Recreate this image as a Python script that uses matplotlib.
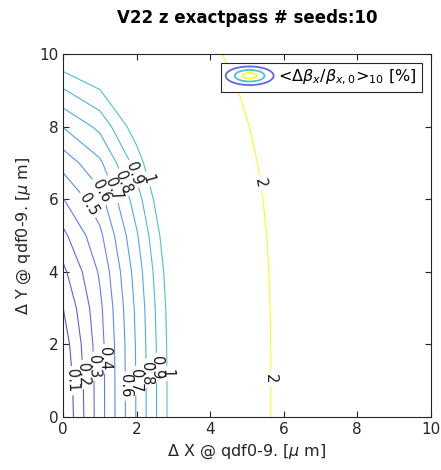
import numpy as np
import matplotlib.pyplot as plt
from matplotlib.colors import LinearSegmentedColormap, Normalize
from matplotlib.legend_handler import HandlerBase
from matplotlib.patches import Ellipse, Patch

# grid of the scan (offsets in um)
x_grid = [0, 1, 2, 3, 4, 5, 6, 7, 8, 9, 10]
y_grid = [0, 1, 2, 3, 4, 5, 6, 7, 8, 9, 10]

# <dbeta_x/beta_x0> [%], one row per y value
z_rows = [
    [0.000, 0.354, 0.708, 1.062, 1.416, 1.770, 2.124, 2.478, 2.832, 3.186, 3.540],
    [0.011, 0.355, 0.708, 1.062, 1.416, 1.770, 2.124, 2.478, 2.832, 3.186, 3.540],
    [0.044, 0.360, 0.712, 1.065, 1.418, 1.772, 2.125, 2.479, 2.833, 3.187, 3.541],
    [0.099, 0.377, 0.723, 1.073, 1.425, 1.778, 2.130, 2.484, 2.837, 3.191, 3.545],
    [0.176, 0.414, 0.746, 1.091, 1.440, 1.790, 2.142, 2.494, 2.847, 3.200, 3.553],
    [0.275, 0.476, 0.788, 1.124, 1.467, 1.814, 2.162, 2.513, 2.863, 3.215, 3.567],
    [0.396, 0.565, 0.853, 1.175, 1.509, 1.850, 2.195, 2.542, 2.890, 3.240, 3.590],
    [0.539, 0.681, 0.943, 1.248, 1.571, 1.904, 2.243, 2.585, 2.930, 3.277, 3.624],
    [0.704, 0.826, 1.061, 1.347, 1.656, 1.979, 2.309, 2.646, 2.985, 3.328, 3.672],
    [0.891, 0.996, 1.207, 1.472, 1.765, 2.076, 2.397, 2.725, 3.059, 3.396, 3.736],
    [1.100, 1.192, 1.381, 1.625, 1.902, 2.198, 2.508, 2.827, 3.153, 3.484, 3.818],
]

levels = [0.1, 0.2, 0.3, 0.4, 0.5, 0.6, 0.7, 0.8, 0.9, 1.0, 2.0]
ticks = [0, 2, 4, 6, 8, 10]

# parula-like colormap (slightly washed out like the thin matlab lines)
parula = LinearSegmentedColormap.from_list("parula", [
    (0.00, (0.380, 0.320, 0.820)),
    (0.10, (0.400, 0.400, 0.950)),
    (0.20, (0.380, 0.520, 1.000)),
    (0.32, (0.300, 0.640, 0.960)),
    (0.45, (0.280, 0.760, 0.840)),
    (0.58, (0.350, 0.800, 0.680)),
    (0.72, (0.620, 0.800, 0.480)),
    (0.86, (0.960, 0.780, 0.320)),
    (1.00, (0.980, 0.980, 0.150)),
])

X, Y = np.meshgrid(x_grid, y_grid)
Z = np.array(z_rows)

plt.rcParams['font.family'] = 'DejaVu Sans'

fig = plt.figure(figsize=(4.41, 4.70), dpi=100)
ax = fig.add_axes([0.143, 0.113, 0.834, 0.772])

cs = ax.contour(X, Y, Z, levels=levels, cmap=parula,
                norm=Normalize(vmin=0.1, vmax=2.0), linewidths=0.8)

label_pos = [
    (0.28, 1.0), (0.57, 1.17), (0.85, 1.4), (1.13, 1.6),
    (1.69, 0.85), (1.98, 1.0), (2.26, 1.2), (2.54, 1.36), (2.82, 1.2),
    (0.70, 5.85), (0.99, 6.2), (1.36, 6.28), (1.65, 6.47), (1.91, 6.7), (2.31, 6.55),
    (5.43, 6.47), (5.65, 1.05),
]
ax.clabel(cs, manual=label_pos, fmt='%g', fontsize=10.5, colors='#1a1a1a',
          inline=True, inline_spacing=3)

ax.set_xlim(0, 10)
ax.set_ylim(0, 10)
ax.set_xticks(ticks)
ax.set_yticks(ticks)
ax.tick_params(direction='in', top=True, right=True, length=4,
               labelsize=11, colors='#262626')
for s in ax.spines.values():
    s.set_color('#262626')
    s.set_linewidth(0.8)

ax.set_xlabel(r'$\Delta$ X @ qdf0-9. [$\mu$ m]', fontsize=11.5, color='#262626')
ax.set_ylabel(r'$\Delta$ Y @ qdf0-9. [$\mu$ m]', fontsize=11.5, color='#262626')
ax.set_title('V22 z exactpass # seeds:10', fontsize=12, fontweight='bold', pad=22)


class ContourIcon(HandlerBase):
    def create_artists(self, legend, orig_handle, xdescent, ydescent,
                       width, height, fontsize, trans):
        cx = width / 2 - xdescent
        cy = height / 2 - ydescent
        out = []
        for k, c in zip([1.0, 0.62, 0.3], [parula(0.08), parula(0.47), parula(1.0)]):
            e = Ellipse((cx, cy), width * k, height * 1.3 * k, fill=False,
                        edgecolor=c, lw=1.3, transform=trans)
            out.append(e)
        return out


proxy = Patch()
leg = ax.legend([proxy], [r'<$\Delta\beta_x/\beta_{x,0}$>$_{10}$ [%]'],
                handler_map={Patch: ContourIcon()}, loc='upper right',
                fontsize=11.5, handlelength=3.0, handleheight=1.0,
                fancybox=False, framealpha=1, borderaxespad=0.55,
                handletextpad=0.3, borderpad=0.3)
leg.get_frame().set_edgecolor('#262626')
leg.get_frame().set_linewidth(0.8)

fig.savefig('out.png', dpi=100)
